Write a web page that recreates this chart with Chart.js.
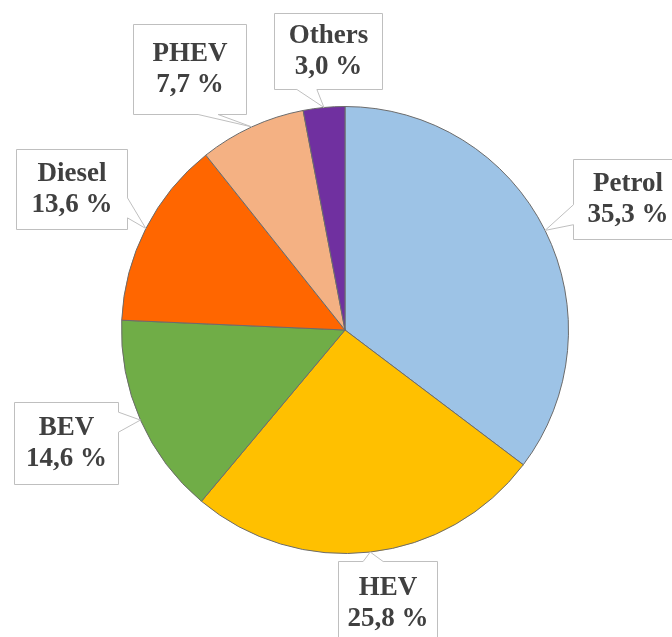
<!DOCTYPE html>
<html>
<head>
<meta charset="utf-8">
<title>Fuel type shares</title>
<script src="https://cdn.jsdelivr.net/npm/chart.js@4/dist/chart.umd.min.js"></script>
<style>
  html, body { margin: 0; padding: 0; background: #fff; }
  #wrap { width: 672px; height: 637px; }
</style>
</head>
<body>
<div id="wrap"><canvas id="pie" width="672" height="637"></canvas></div>
<script>
// ---- data ----
const categories = ["Petrol", "HEV", "BEV", "Diesel", "PHEV", "Others"];
const shares = [35.3, 25.8, 14.6, 13.6, 7.7, 3.0];
const sliceColors = ["#9DC3E6", "#FFC000", "#70AD47", "#FF6600", "#F4B183", "#7030A0"];

// callout boxes (one per slice): box rect, side the pointer leaves from,
// where along that side the pointer sits (0..1)
const calloutBoxes = [
  { x: 573, y: 159, w: 110, h: 81, side: "left",   at: 0.69 },
  { x: 338, y: 561, w: 100, h: 85, side: "top",    at: 0.35 },
  { x: 14,  y: 402, w: 105, h: 83, side: "right",  at: 0.24 },
  { x: 16,  y: 149, w: 112, h: 81, side: "right",  at: 0.73 },
  { x: 133, y: 24,  w: 114, h: 91, side: "bottom", at: 0.66 },
  { x: 274, y: 13,  w: 109, h: 77, side: "bottom", at: 0.30 }
];

function fmtShare(v) {
  return v.toFixed(1).replace(".", ",") + " %";
}

// ---- callouts ----
function calloutPath(ctx, b, tip) {
  const L = b.x + 0.5, T = b.y + 0.5, R = b.x + b.w - 0.5, B = b.y + b.h - 0.5;
  const hw = 10;
  ctx.beginPath();
  ctx.moveTo(L, T);
  if (b.side === "top") {
    const c = L + (R - L) * b.at;
    ctx.lineTo(c - hw, T); ctx.lineTo(tip.x, tip.y); ctx.lineTo(c + hw, T);
  }
  ctx.lineTo(R, T);
  if (b.side === "right") {
    const c = T + (B - T) * b.at;
    ctx.lineTo(R, c - hw); ctx.lineTo(tip.x, tip.y); ctx.lineTo(R, c + hw);
  }
  ctx.lineTo(R, B);
  if (b.side === "bottom") {
    const c = L + (R - L) * b.at;
    ctx.lineTo(c + hw, B); ctx.lineTo(tip.x, tip.y); ctx.lineTo(c - hw, B);
  }
  ctx.lineTo(L, B);
  if (b.side === "left") {
    const c = T + (B - T) * b.at;
    ctx.lineTo(L, c + hw); ctx.lineTo(tip.x, tip.y); ctx.lineTo(L, c - hw);
  }
  ctx.closePath();
}

const calloutPlugin = {
  id: "callouts",
  afterDatasetsDraw(chart) {
    const ctx = chart.ctx;
    const arcs = chart.getDatasetMeta(0).data;
    ctx.save();
    arcs.forEach((arc, i) => {
      const p = arc.getProps(["x", "y", "startAngle", "endAngle", "outerRadius"], true);
      const mid = (p.startAngle + p.endAngle) / 2;
      const tip = {
        x: p.x + Math.cos(mid) * p.outerRadius,
        y: p.y + Math.sin(mid) * p.outerRadius
      };
      const b = calloutBoxes[i];

      calloutPath(ctx, b, tip);
      ctx.fillStyle = "#ffffff";
      ctx.fill();
      ctx.strokeStyle = "#bfbfbf";
      ctx.lineWidth = 1;
      ctx.stroke();

      const cx = b.x + b.w / 2;
      const cy = b.y + b.h / 2;
      ctx.fillStyle = "#404040";
      ctx.font = "bold 27px 'Liberation Serif', 'Times New Roman', serif";
      ctx.textAlign = "center";
      ctx.textBaseline = "middle";
      ctx.fillText(categories[i], cx, cy - 15);
      ctx.fillText(fmtShare(shares[i]), cx, cy + 16);
    });
    ctx.restore();
  }
};

// ---- chart ----
new Chart(document.getElementById("pie"), {
  type: "pie",
  data: {
    labels: categories,
    datasets: [{
      data: shares,
      backgroundColor: sliceColors,
      borderColor: "#6b6b6b",
      borderWidth: 1,
      hoverOffset: 0
    }]
  },
  options: {
    responsive: false,
    animation: false,
    layout: { padding: { left: 121, right: 103, top: 106, bottom: 83 } },
    plugins: {
      legend: { display: false },
      tooltip: { enabled: false }
    }
  },
  plugins: [calloutPlugin]
});
</script>
</body>
</html>
